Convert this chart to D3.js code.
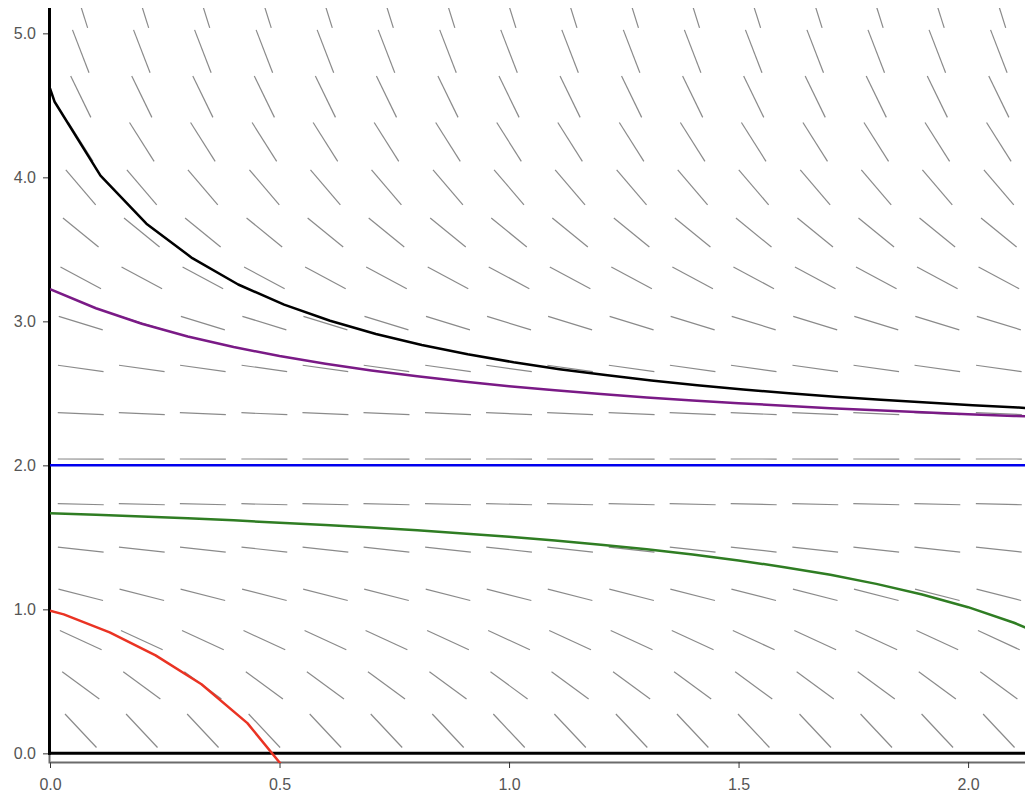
<!DOCTYPE html>
<html lang="en">
<head>
    <meta charset="UTF-8">
    <title>Slope field</title>
    <script src="https://d3js.org/d3.v7.min.js"></script>
    <style>
        body { margin: 0; background: #fff; }
        .seg { stroke: #8a8a8a; stroke-width: 1.2; }
        .curve { fill: none; stroke-width: 2.5; stroke-linejoin: round; }
        .frame { stroke: #000; stroke-width: 3; }
        .axis path { stroke: #6b6b6b; stroke-width: 2; }
        .axis line { stroke: #333; }
        .axis text { font-family: "Liberation Sans", Arial, sans-serif; font-size: 16px; fill: #555; }
    </style>
</head>
<body>
<script>
    const width = 1025;
    const height = 797;

    // slope field: grid centres and slope per row
    const fieldX = [0.067, 0.2, 0.333, 0.467, 0.6, 0.733, 0.867, 1.0, 1.133, 1.267, 1.4, 1.533, 1.667, 1.8, 1.933, 2.067];
    const fieldY = [0.157, 0.472, 0.786, 1.101, 1.415, 1.73, 2.044, 2.359, 2.673, 2.988, 3.302, 3.617, 3.931, 4.246, 4.56, 4.875, 5.19];
    const fieldSlope = [-3.40, -2.33, -1.47, -0.81, -0.34, -0.073, -0.002, -0.129, -0.45, -0.98, -1.70, -2.61, -3.73, -5.04, -6.55, -8.27, -10.17];

    // solution curves
    const blackX = [0, 0.01, 0.11, 0.21, 0.31, 0.41, 0.51, 0.61, 0.71, 0.81, 0.91, 1.01, 1.11, 1.21, 1.31, 1.41, 1.51, 1.61, 1.71, 1.81, 1.91, 2.01, 2.11, 2.21];
    const blackY = [4.618, 4.525, 4.012, 3.678, 3.439, 3.256, 3.116, 3.004, 2.912, 2.836, 2.772, 2.716, 2.668, 2.627, 2.590, 2.557, 2.527, 2.501, 2.477, 2.455, 2.436, 2.417, 2.401, 2.385];
    const stepX = [0, 0.1, 0.2, 0.3, 0.4, 0.5, 0.6, 0.7, 0.8, 0.9, 1.0, 1.1, 1.2, 1.3, 1.4, 1.5, 1.6, 1.7, 1.8, 1.9, 2.0, 2.1, 2.2];
    const purpleY = [3.224, 3.091, 2.983, 2.895, 2.822, 2.759, 2.706, 2.659, 2.618, 2.582, 2.550, 2.522, 2.496, 2.472, 2.451, 2.432, 2.414, 2.397, 2.382, 2.368, 2.355, 2.343, 2.331];
    const greenY = [1.668, 1.657, 1.645, 1.632, 1.618, 1.602, 1.586, 1.568, 1.549, 1.527, 1.504, 1.478, 1.449, 1.417, 1.381, 1.340, 1.293, 1.240, 1.177, 1.103, 1.015, 0.907, 0.773];
    const blueX = [0, 2.2];
    const blueY = [2, 2];
    const redX = [0, 0.03, 0.13, 0.23, 0.33, 0.43, 0.53];
    const redY = [0.99, 0.965, 0.84, 0.68, 0.48, 0.21, -0.18];

    const xTicks = [0, 0.5, 1.0, 1.5, 2.0];
    const yTicks = [0, 1, 2, 3, 4, 5];

    const plotLeft = 50, plotTop = 8, plotBottom = 763;

    const x = d3.scaleLinear().domain([0, 2.124]).range([plotLeft, width]);
    const y = d3.scaleLinear().domain([-0.067, 5.176]).range([plotBottom, plotTop]);

    const svg = d3.select("body").append("svg").attr("width", width).attr("height", height);

    svg.append("defs").append("clipPath").attr("id", "plot")
        .append("rect").attr("x", plotLeft).attr("y", plotTop)
        .attr("width", width - plotLeft).attr("height", plotBottom - plotTop);

    const plot = svg.append("g").attr("clip-path", "url(#plot)");

    // slope segments
    const segLen = 46;
    const segs = [];
    fieldY.forEach((fy, i) => {
        fieldX.forEach(fx => segs.push({x: fx, y: fy, m: fieldSlope[i]}));
    });
    plot.append("g").selectAll("line")
        .data(segs)
        .enter()
        .append("line")
        .attr("class", "seg")
        .each(function(d) {
            const cx = x(d.x), cy = y(d.y);
            const dx = x(1) - x(0);
            const dy = y(d.m) - y(0);
            const n = Math.sqrt(dx * dx + dy * dy);
            const ux = dx / n * segLen / 2, uy = dy / n * segLen / 2;
            d3.select(this)
                .attr("x1", cx - ux).attr("y1", cy - uy)
                .attr("x2", cx + ux).attr("y2", cy + uy);
        });

    // axes
    svg.append("g").attr("class", "axis")
        .attr("transform", `translate(0,${plotBottom - 1})`)
        .call(d3.axisBottom(x).tickValues(xTicks).tickFormat(d3.format(".1f")).tickSizeOuter(0).tickPadding(11));
    svg.append("g").attr("class", "axis")
        .attr("transform", `translate(${plotLeft - 1},0)`)
        .call(d3.axisLeft(y).tickValues(yTicks).tickFormat(d3.format(".1f")).tickSizeOuter(0).tickPadding(7));

    // thick x=0 and y=0 lines
    svg.append("line").attr("class", "frame")
        .attr("x1", x(0) - 2).attr("x2", width).attr("y1", y(0)).attr("y2", y(0));
    svg.append("line").attr("class", "frame")
        .attr("x1", x(0) - 0.5).attr("x2", x(0) - 0.5).attr("y1", plotTop).attr("y2", y(0) + 1.5);

    // solution curves
    const line = d3.line().x(d => x(d[0])).y(d => y(d[1]));
    const curves = [
        {xs: blueX, ys: blueY, color: "#0000ee"},
        {xs: blackX, ys: blackY, color: "#000000"},
        {xs: stepX, ys: purpleY, color: "#7a1a86"},
        {xs: stepX, ys: greenY, color: "#2f7d23"},
        {xs: redX, ys: redY, color: "#ea3323"}
    ];
    const curveG = svg.append("g").attr("clip-path", "url(#plot)");
    curveG.selectAll("path")
        .data(curves)
        .enter()
        .append("path")
        .attr("class", "curve")
        .attr("stroke", d => d.color)
        .attr("d", d => line(d.xs.map((v, i) => [v, d.ys[i]])));
</script>
</body>
</html>
